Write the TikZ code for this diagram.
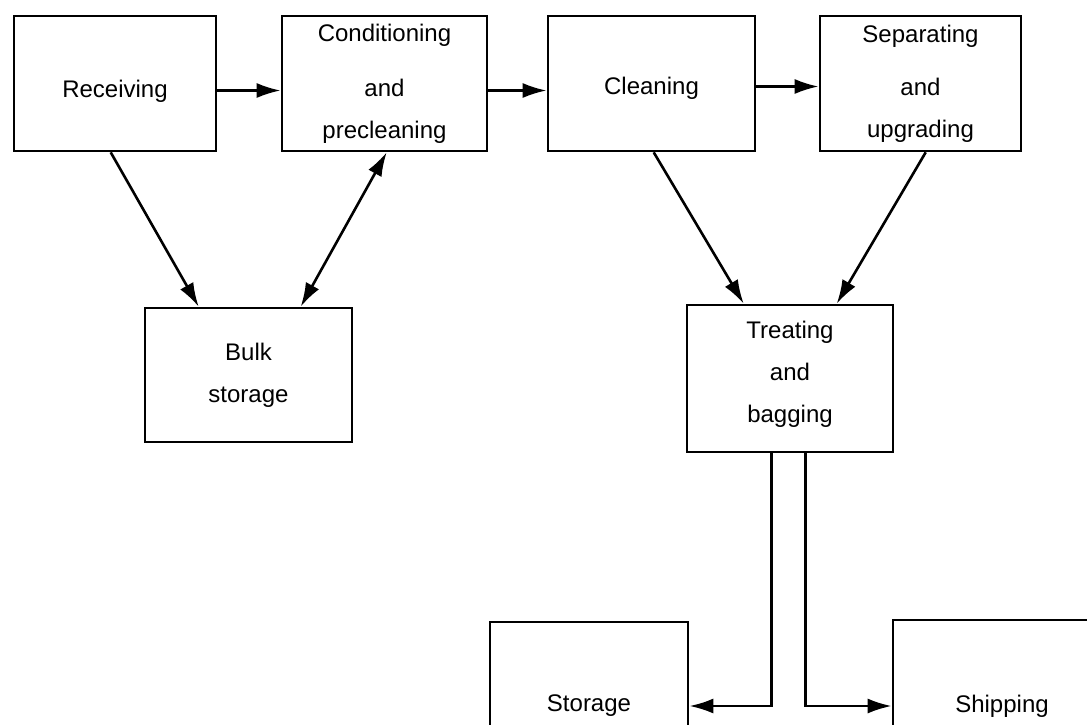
\documentclass[tikz,border=0pt]{standalone}
\usepackage{fontspec}
\setmainfont{Liberation Sans}
\usetikzlibrary{arrows.meta}
\begin{document}
\begin{tikzpicture}[x=1pt,y=-1pt,
  box/.style={draw,line width=2.6pt,rectangle,inner sep=0pt,align=center,
    font=\fontsize{24}{42}\selectfont},
  arr/.style={line width=2.6pt,-{Latex[length=24pt,width=15pt]}},
  darr/.style={line width=2.6pt,{Latex[length=24pt,width=15pt]}-{Latex[length=24pt,width=15pt]}}]
\useasboundingbox[fill=white] (0,0) rectangle (1087,724);
\clip (0,0) rectangle (1087,724);
\node[box,minimum width=202pt,minimum height=135pt] (rec) at (115,83.5) {\raisebox{-14pt}[0pt][0pt]{Receiving}};
\node[box,minimum width=205pt,minimum height=135pt] (cond) at (384.5,83.5) {Conditioning\\[13pt]and\\precleaning};
\node[box,minimum width=207pt,minimum height=135pt] (clean) at (651.5,83.5) {\raisebox{-11pt}[0pt][0pt]{Cleaning}};
\node[box,minimum width=201pt,minimum height=135pt] (sep) at (920.5,83.5) {Separating\\[11pt]and\\upgrading};
\node[box,minimum width=207pt,minimum height=134pt] (bulk) at (248.5,375) {Bulk\\storage};
\node[box,minimum width=206pt,minimum height=147pt] (treat) at (790,378.5) {Treating\\and\\bagging\\[-29pt]\mbox{}};
\node[box,minimum width=198pt,minimum height=168pt] (stor) at (589,706) {Storage};
\node[box,minimum width=218pt,minimum height=172pt] (ship) at (1002,706) {Shipping};
\draw[arr] ([yshift=-7pt]rec.east) -- ([yshift=-7pt]cond.west);
\draw[arr] ([yshift=-7pt]cond.east) -- ([yshift=-7pt]clean.west);
\draw[arr] ([yshift=-3pt]clean.east) -- ([yshift=-3pt]sep.west);
\draw[arr] ([xshift=98pt]rec.south west) -- ([xshift=55pt]bulk.north west);
\draw[darr] ([xshift=157pt]bulk.north west) -- ([xshift=106pt]cond.south west);
\draw[arr] ([xshift=107pt]clean.south west) -- ([xshift=58pt]treat.north west);
\draw[arr] ([xshift=107pt]sep.south west) -- ([xshift=151pt]treat.north west);
\draw[arr] ([xshift=86pt]treat.south west) |- (stor.east);
\draw[arr] ([xshift=120pt]treat.south west) |- (ship.west);
\end{tikzpicture}
\end{document}
